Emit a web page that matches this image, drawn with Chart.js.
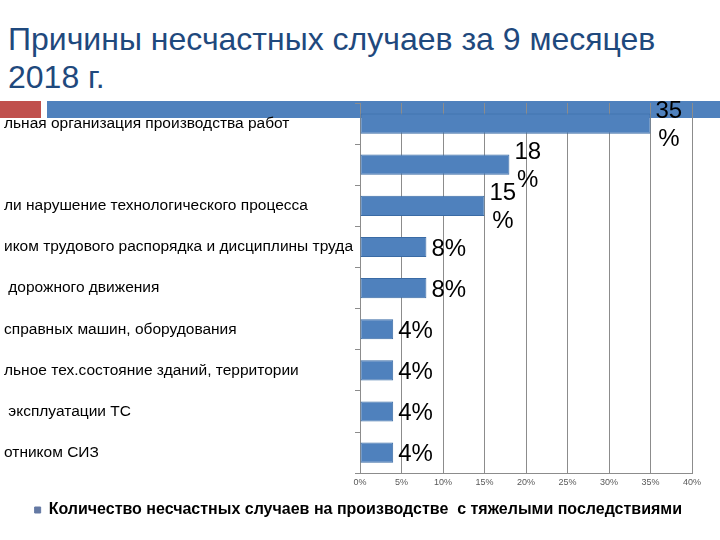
<!DOCTYPE html>
<html>
<head>
<meta charset="utf-8">
<script src="https://cdn.jsdelivr.net/npm/chart.js@4"></script>
<style>
  body { margin: 0; background: #fff; }
  #page { position: relative; width: 720px; height: 540px; overflow: hidden; }
  #title {
    position: absolute; left: 8px; top: 20px;
    font: 32px "Liberation Sans", Arial, sans-serif;
    line-height: 38px; color: #1F497D; white-space: nowrap;
  }
  .band { position: absolute; top: 101px; height: 17px; }
  #red { left: 0; width: 41px; background: #C0504D; }
  #blue { left: 47px; right: 0; background: #4F81BD; }
  #chart { position: absolute; left: 0; top: 0; }
</style>
</head>
<body>
<div id="page">
  <div id="title">Причины несчастных случаев за 9 месяцев<br>2018 г.</div>
  <div class="band" id="red"></div>
  <div class="band" id="blue"></div>
  <canvas id="chart" width="720" height="540"></canvas>
</div>
<script>
// labels are cut off at the left edge in the original slide
const categories = [
  'льная организация производства работ',
  '',
  'ли нарушение технологического процесса',
  'иком трудового распорядка и дисциплины труда',
  ' дорожного движения',
  'справных машин, оборудования',
  'льное тех.состояние зданий, территории',
  ' эксплуатации ТС',
  'отником СИЗ'
];
const values = [35, 18, 15, 8, 8, 4, 4, 4, 4];
const seriesName = 'Количество несчастных случаев на производстве  с тяжелыми последствиями';
const xMin = 0, xMax = 40, xStep = 5;

const FONT = '"Liberation Sans", Arial, sans-serif';

// big percent labels right of each bar (wider ones wrap like in the slide)
const valueLabels = {
  id: 'valueLabels',
  afterDatasetsDraw(chart) {
    const ctx = chart.ctx;
    const meta = chart.getDatasetMeta(0);
    ctx.save();
    ctx.font = '24px ' + FONT;
    ctx.fillStyle = '#000';
    ctx.textBaseline = 'middle';
    ctx.textAlign = 'center';
    meta.data.forEach((bar, i) => {
      const v = values[i];
      const lines = v >= 10 ? [String(v), '%'] : [v + '%'];
      const w = Math.max(...lines.map(l => ctx.measureText(l).width));
      const cx = bar.x + 5 + w / 2;
      const lh = 28;
      lines.forEach((l, j) => {
        ctx.fillText(l, cx, bar.y + 2 + (j - (lines.length - 1) / 2) * lh);
      });
    });
    ctx.restore();
  }
};

const ctx = document.getElementById('chart').getContext('2d');
new Chart(ctx, {
  type: 'bar',
  data: {
    labels: categories,
    datasets: [{
      label: seriesName,
      data: values,
      backgroundColor: '#4F81BD',
      borderColor: '#3A6BA5',
      borderWidth: 1,
      borderSkipped: false,
      barPercentage: 0.49,
      categoryPercentage: 1
    }]
  },
  options: {
    indexAxis: 'y',
    responsive: false,
    animation: false,
    layout: { padding: { left: 4, top: 103, right: 28, bottom: 12 } },
    plugins: {
      legend: {
        position: 'bottom',
        align: 'end',
        labels: {
          boxWidth: 6, boxHeight: 6, padding: 10,
          color: '#000',
          font: { family: FONT, size: 16, weight: 'bold' },
          generateLabels(chart) {
            const items = Chart.defaults.plugins.legend.labels.generateLabels(chart);
            items.forEach(it => { it.fillStyle = '#6479A3'; it.strokeStyle = '#6479A3'; });
            return items;
          }
        }
      },
      tooltip: { enabled: false }
    },
    scales: {
      x: {
        min: xMin, max: xMax,
        ticks: {
          stepSize: xStep,
          callback: v => v + '%',
          color: '#595959',
          padding: 4,
          font: { family: FONT, size: 9 }
        },
        grid: { color: '#8c8c8c', drawTicks: false },
        border: { color: '#8c8c8c' }
      },
      y: {
        ticks: {
          crossAlign: 'far',
          autoSkip: false,
          color: '#000',
          font: { family: FONT, size: 15.5 }
        },
        grid: { drawOnChartArea: false, tickLength: 5, color: '#8c8c8c' },
        border: { color: '#8c8c8c' },
        afterFit(scale) { scale.width = 356; }
      }
    }
  },
  plugins: [valueLabels]
});
</script>
</body>
</html>
